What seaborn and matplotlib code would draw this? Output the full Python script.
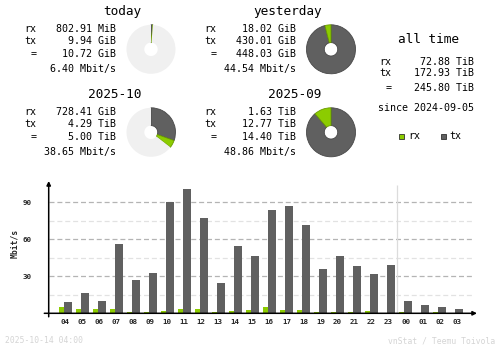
import matplotlib
matplotlib.use("Agg")
import matplotlib.pyplot as plt
import seaborn as sns
import pandas as pd

# ---------------- data ----------------
hours = ["04", "05", "06", "07", "08", "09", "10", "11", "12", "13", "14", "15",
         "16", "17", "18", "19", "20", "21", "22", "23", "00", "01", "02", "03"]
rx_mbit = [5.1, 3.5, 3.5, 3.5, 1.1, 1.1, 1.9, 3.5, 3.5, 1.1, 1.9, 2.7,
           5.1, 2.7, 2.7, 1.1, 1.1, 1.1, 1.9, 0.0, 1.1, 0.0, 1.1, 0.0]
tx_mbit = [9.2, 16.5, 10.0, 56.2, 27.0, 32.7, 90.3, 100.8, 77.3, 24.6, 54.6, 46.5,
           83.8, 87.0, 71.6, 35.9, 46.5, 38.4, 31.9, 39.2, 10.0, 6.8, 5.1, 3.5]
y_major = [30, 60, 90]
y_minor = [15, 45, 75]

period_titles = ["today", "yesterday", "2025-10", "2025-09"]
period_rx_txt = ["802.91 MiB", "18.02 GiB", "728.41 GiB", "1.63 TiB"]
period_tx_txt = ["9.94 GiB", "430.01 GiB", "4.29 TiB", "12.77 TiB"]
period_tot_txt = ["10.72 GiB", "448.03 GiB", "5.00 TiB", "14.40 TiB"]
period_rate_txt = ["6.40 Mbit/s", "44.54 Mbit/s", "38.65 Mbit/s", "48.86 Mbit/s"]
period_rx_gib = [0.784, 18.02, 728.41, 1669.1]
period_tx_gib = [9.94, 430.01, 4392.96, 13076.5]
period_fill = [0.012, 1.0, 0.355, 1.0]

alltime_rx = "72.88 TiB"
alltime_tx = "172.93 TiB"
alltime_tot = "245.80 TiB"
alltime_since = "since 2024-09-05"
stamp = "2025-10-14 04:00"
credit = "vnStat / Teemu Toivola"

# ---------------- style ----------------
RX = "#8ccc00"
TX = "#606060"
PIE_BG = "#f0f0f0"
W, H = 500, 348

sns.set_theme(style="white")
plt.rcParams["font.family"] = ["DejaVu Sans Mono"]

fig = plt.figure(figsize=(W / 100, H / 100), dpi=100)
fig.patch.set_facecolor("white")


def fx(x):
    return x / W


def fy(y):
    return 1 - y / H


def txt(x, y, s, size=7.2, ha="left", color="black", **kw):
    fig.text(fx(x), fy(y), s, fontsize=size, ha=ha, va="center", color=color, **kw)


# ---------------- summary blocks ----------------
block_x = [0, 180, 0, 180]
block_y = [0, 0, 83, 83]
for i in range(4):
    bx, by = block_x[i], block_y[i]
    txt(141.7 + bx, 11.7 + by, period_titles[i], size=9.2, ha="right")
    txt(36.7 + bx, 29 + by, "rx", ha="right")
    txt(36.7 + bx, 41.3 + by, "tx", ha="right")
    txt(36.7 + bx, 54.3 + by, "=", ha="right")
    txt(115.5 + bx, 29 + by, period_rx_txt[i], ha="right")
    txt(115.5 + bx, 41.3 + by, period_tx_txt[i], ha="right")
    txt(115.5 + bx, 54.3 + by, period_tot_txt[i], ha="right")
    txt(115.5 + bx, 69 + by, period_rate_txt[i], ha="right")

    # donut
    r = 24.5
    cx, cy = 151 + bx, 49.3 + by
    pax = fig.add_axes([fx(cx - r), fy(cy + r), 2 * r / W, 2 * r / H])
    tot = period_rx_gib[i] + period_tx_gib[i]
    f = period_fill[i]
    vals = [f * period_tx_gib[i] / tot, f * period_rx_gib[i] / tot, max(1 - f, 0)]
    cols = [TX, RX, PIE_BG]
    edges = ["#484848", "#6a9a00", PIE_BG]
    wedges, _ = pax.pie(vals, colors=cols, startangle=90, counterclock=False,
                        radius=1, wedgeprops=dict(width=1 - 6.7 / 24.5, linewidth=0))
    for w_, e in zip(wedges, edges):
        if e != PIE_BG:
            w_.set_edgecolor(e)
            w_.set_linewidth(0.6)
    pax.set_xlim(-1, 1)
    pax.set_ylim(-1, 1)
    pax.set_aspect("equal")
    pax.axis("off")

# all time
txt(428.8, 39.3, "all time", size=9.2, ha="center")
txt(391.7, 62, "rx", ha="right")
txt(391.7, 73, "tx", ha="right")
txt(391.7, 87.7, "=", ha="right")
txt(474, 62, alltime_rx, ha="right")
txt(474, 73, alltime_tx, ha="right")
txt(474, 87.7, alltime_tot, ha="right")
txt(474, 108, alltime_since, ha="right")

# legend squares
for sx, col, lab in [(399, RX, "rx"), (440.7, TX, "tx")]:
    fig.patches.append(plt.Rectangle((fx(sx), fy(139)), 5.3 / W, 5.3 / H,
                                     transform=fig.transFigure, facecolor=col,
                                     edgecolor="#303030", linewidth=0.6))
    txt(sx + 9, 136.3, lab)

# ---------------- hourly bars ----------------
df = pd.DataFrame({
    "hour": hours * 2,
    "mbit": rx_mbit + tx_mbit,
    "dir": ["rx"] * len(hours) + ["tx"] * len(hours),
})

x0, x1 = 48.7, 477
y0, ytop = 313.3, 181
ax = fig.add_axes([fx(x0), fy(y0), (x1 - x0) / W, (y0 - ytop) / H])
sns.barplot(data=df, x="hour", y="mbit", hue="dir", order=hours,
            hue_order=["rx", "tx"], palette=[RX, TX], legend=False,
            errorbar=None, saturation=1, ax=ax, zorder=3)

for cont, (off, wd) in zip(ax.containers, [(-0.382, 0.294), (-0.088, 0.47)]):
    for j, p in enumerate(cont.patches):
        p.set_x(j + off)
        p.set_width(wd)
        p.set_linewidth(0)

ax.set_xlim(-0.96, 24.2)
ymax = 107.3
ax.set_ylim(0, ymax)
ax.set_facecolor("white")
for s in ax.spines.values():
    s.set_visible(False)

ax.hlines(y_major, -0.96, 23.94, colors="#b4b4b4", linewidth=0.9,
          linestyles=(0, (4, 2.3)), zorder=1)
ax.hlines(y_minor, -0.96, 23.94, colors="#e2e2e2", linewidth=0.9,
          linestyles=(0, (4, 2.3)), zorder=1)
ax.vlines([19.5], 0, 104.3, colors="#dcdcdc", linewidth=0.9, zorder=1)

# axes with arrows
ax.annotate("", xy=(0, 1.0), xytext=(0, -3.5 / (y0 - ytop)), xycoords="axes fraction",
            arrowprops=dict(arrowstyle="-|>", color="black", lw=1.1,
                            mutation_scale=6, shrinkA=0, shrinkB=0))
ax.annotate("", xy=(1.0, 0), xytext=(-4.4 / (x1 - x0), 0), xycoords="axes fraction",
            arrowprops=dict(arrowstyle="-|>", color="black", lw=1.1,
                            mutation_scale=6, shrinkA=0, shrinkB=0))

ax.set_xticks(range(len(hours)))
ax.set_xticklabels(hours, fontsize=5.4, fontweight="bold")
ax.set_yticks(y_major)
ax.set_yticklabels([str(v) for v in y_major], fontsize=5.4, fontweight="bold")
ax.tick_params(axis="x", length=0, pad=4.2)
ax.tick_params(axis="y", length=0, pad=12.5)
ax.set_xlabel("")
ax.set_ylabel("")
fig.text(fx(15), fy(243.5), "Mbit/s", rotation=90, fontsize=5.8, fontweight="bold",
         ha="center", va="center")

# footer
txt(5, 340.5, stamp, size=5.8, color="#d4d4d4")
txt(495, 340.5, credit, size=5.8, ha="right", color="#d4d4d4")

fig.savefig("out.png", dpi=100, facecolor="white")
